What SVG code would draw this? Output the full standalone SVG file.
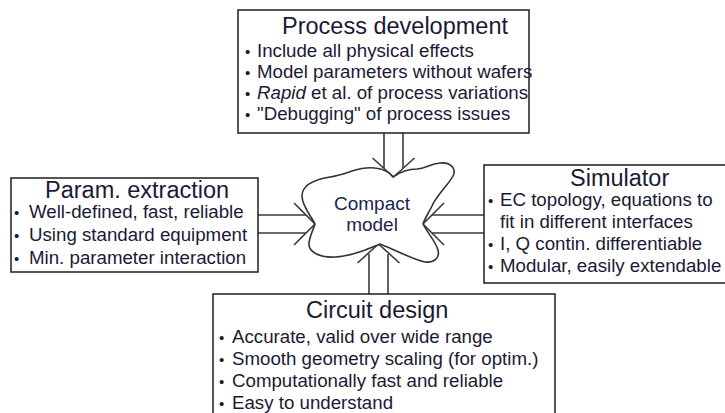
<svg xmlns="http://www.w3.org/2000/svg" width="725" height="413" viewBox="0 0 725 413">
<style>
.box{fill:#fff;stroke:#1e1e1e;stroke-width:1.5}
.cloud{fill:#fff;stroke:#333;stroke-width:1.6}
.t{font-family:"Liberation Sans",Arial,sans-serif;font-size:23.5px;fill:#1a1a35}
.b{font-family:"Liberation Sans",Arial,sans-serif;font-size:18.7px;fill:#1a1a35}
.d{font-size:15px}
.c{font-family:"Liberation Sans",Arial,sans-serif;font-size:19px;fill:#1b2550;text-anchor:middle}
.sh{stroke:#3a3a3a;stroke-width:1.6;fill:none}
</style>
<rect width="725" height="413" fill="#fff"/>
<g id="connectors">
  <line class="sh" x1="384" y1="133" x2="384" y2="168"/>
  <line class="sh" x1="403" y1="133" x2="403" y2="168"/>
  <polyline class="sh" points="372.5,158 393.5,177 414.5,158"/>
  <line class="sh" x1="258" y1="215" x2="306" y2="215"/>
  <line class="sh" x1="258" y1="233" x2="306" y2="233"/>
  <polyline class="sh" points="294,203 315,224 294,245"/>
  <line class="sh" x1="484" y1="215" x2="432" y2="215"/>
  <line class="sh" x1="484" y1="233" x2="432" y2="233"/>
  <polyline class="sh" points="444,203 423,224 444,245"/>
  <line class="sh" x1="369" y1="294" x2="369" y2="254"/>
  <line class="sh" x1="388" y1="294" x2="388" y2="254"/>
  <polyline class="sh" points="357.5,263 378.5,244 399.5,263"/>
</g>
<g id="compact-model">
  <path class="cloud" d="M393,177 C400,172 408,169 417,169 C426,168 430,164 440,163 C450,162 457,168 453,176 C449,184 436,196 432,206 C428,214 424,220 423,224 C427,232 436,242 438,250 C440,258 434,263 425,262 C414,260 400,252 380,244 C370,248 355,256 335,257 C320,258 308,252 309,243 C310,235 314,228 315,224 C311,216 302,206 302,196 C302,186 312,180 330,177 C348,174 360,166 375,168 C385,169 390,173 393,177 Z"/>
  <text class="c" x="372" y="210">Compact</text>
  <text class="c" x="372" y="231">model</text>
</g>
<g id="process-development">
  <rect class="box" x="238" y="10" width="291" height="123"/>
  <text class="t" x="282" y="34">Process development</text>
  <text class="b" x="245" y="57"><tspan class="d">•</tspan><tspan x="257">Include all physical effects</tspan></text>
  <text class="b" x="245" y="78"><tspan class="d">•</tspan><tspan x="257">Model parameters without wafers</tspan></text>
  <text class="b" x="245" y="99"><tspan class="d">•</tspan><tspan x="257" font-style="italic">Rapid</tspan> et al. of process variations</text>
  <text class="b" x="245" y="120"><tspan class="d">•</tspan><tspan x="257">"Debugging" of process issues</tspan></text>
</g>
<g id="param-extraction">
  <rect class="box" x="11" y="178" width="247" height="94"/>
  <text class="t" x="45" y="198">Param. extraction</text>
  <text class="b" x="14" y="218"><tspan class="d">•</tspan><tspan x="29">Well-defined, fast, reliable</tspan></text>
  <text class="b" x="14" y="241"><tspan class="d">•</tspan><tspan x="29">Using standard equipment</tspan></text>
  <text class="b" x="14" y="264"><tspan class="d">•</tspan><tspan x="29">Min. parameter interaction</tspan></text>
</g>
<g id="simulator">
  <rect class="box" x="484" y="165" width="260" height="118"/>
  <text class="t" x="570" y="186">Simulator</text>
  <text class="b" x="488" y="206"><tspan class="d">•</tspan><tspan x="500">EC topology, equations to</tspan></text>
  <text class="b" x="500" y="228">fit in different interfaces</text>
  <text class="b" x="488" y="250"><tspan class="d">•</tspan><tspan x="500">I, Q contin. differentiable</tspan></text>
  <text class="b" x="488" y="272"><tspan class="d">•</tspan><tspan x="500">Modular, easily extendable</tspan></text>
</g>
<g id="circuit-design">
  <rect class="box" x="213" y="294" width="342" height="130"/>
  <text class="t" x="306" y="318">Circuit design</text>
  <text class="b" x="219" y="343"><tspan class="d">•</tspan><tspan x="232">Accurate, valid over wide range</tspan></text>
  <text class="b" x="219" y="365"><tspan class="d">•</tspan><tspan x="232">Smooth geometry scaling (for optim.)</tspan></text>
  <text class="b" x="219" y="387"><tspan class="d">•</tspan><tspan x="232">Computationally fast and reliable</tspan></text>
  <text class="b" x="219" y="409"><tspan class="d">•</tspan><tspan x="232">Easy to understand</tspan></text>
</g>
</svg>
